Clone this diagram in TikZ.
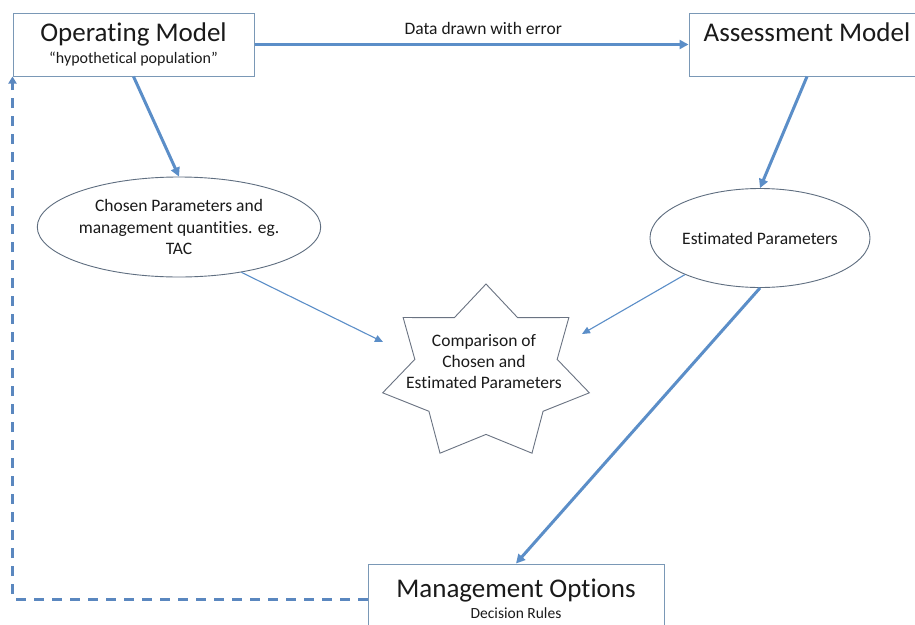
\documentclass[tikz,border=0pt]{standalone}
\usepackage{fontspec}
\setmainfont{Carlito}[Ligatures=NoCommon]
\usetikzlibrary{arrows.meta,shapes.geometric}
\definecolor{lineblue}{HTML}{5B8EC8}
\definecolor{dashblue}{HTML}{5A87BF}
\definecolor{boxline}{HTML}{7A98B6}
\definecolor{ovalline}{HTML}{5F6E80}
\definecolor{starline}{HTML}{6A7382}
\definecolor{textcol}{HTML}{1A1A1A}
\begin{document}
\begin{tikzpicture}[x=1pt,y=-1pt,
  box/.style={draw=boxline, line width=1pt, fill=white, inner sep=0pt, align=center, text=textcol},
  oval/.style={ellipse, draw=ovalline, line width=0.9pt, fill=white, inner sep=0pt, align=center, text=textcol, font=\fontsize{17.5}{21.5}\selectfont},
  bigarrow/.style={draw=lineblue, line width=3pt, -{Triangle[length=9pt,width=9pt]}},
  smallarrow/.style={draw=lineblue, line width=1.1pt, -{Triangle[length=8pt,width=7pt]}},
  dashline/.style={draw=dashblue, line width=3pt, dash pattern=on 10pt off 8pt, -{Triangle[length=7pt,width=8pt]}},
  startline/.style={draw=starline, line width=0.9pt, fill=white, line join=miter}
]
\clip (0,0) rectangle (915,624);
\fill[white] (0,0) rectangle (915,624);

% boxes
\node[box, minimum width=241pt, minimum height=63pt] (om) at (133.5,44.5)
  {{\fontsize{27}{30}\selectfont Operating Model}\\[5pt]{\fontsize{16}{18}\selectfont “hypothetical population”}};
\node[box, minimum width=236pt, minimum height=63pt] (am) at (807,44.5)
  {{\fontsize{27}{30}\selectfont Assessment Model}\\[5pt]{\fontsize{16}{18}\selectfont\strut}};
\node[box, minimum width=296pt, minimum height=70pt] (mo) at (516,599)
  {{\fontsize{27}{30}\selectfont Management Options}\\[5pt]{\fontsize{15.5}{18}\selectfont Decision Rules}};

% ellipses
\node[oval, minimum width=228pt, minimum height=100pt] (ch) at (179,227)
  {Chosen Parameters and\\management quantities. eg.\\TAC};
\node[oval, minimum width=206pt, minimum height=99pt] (est) at (760,238)
  {Estimated Parameters};

% star
\begin{scope}[shift={(486,373)}]
\draw[startline] (270:106 and 89) -- (295.71:73 and 61.4) -- (321.43:106 and 89)
  -- (347.14:73 and 61.4) -- (12.86:106 and 89) -- (38.57:73 and 61.4)
  -- (64.29:106 and 89) -- (90:73 and 61.4) -- (115.71:106 and 89)
  -- (141.43:73 and 61.4) -- (167.14:106 and 89) -- (192.86:73 and 61.4)
  -- (218.57:106 and 89) -- (244.29:73 and 61.4) -- cycle;
\end{scope}
\node[align=center, text=textcol, font=\fontsize{17.5}{21}\selectfont, inner sep=0pt] (cmp) at (484,362)
  {Comparison of\\Chosen and\\Estimated Parameters};
\coordinate (cmpL) at (383,342);
\coordinate (cmpR) at (582,334);

% connectors
\draw[bigarrow] (om.east) -- node[pos=0.527, above=8pt, inner sep=0pt, text=textcol, font=\fontsize{17.5}{20}\selectfont] (lbl) {Data drawn with error} (am.west);
\draw[bigarrow] (om.south) -- (ch.north);
\draw[bigarrow] (am.south) -- (est.north);
\draw[bigarrow] (est.south) -- (mo.north);
\draw[smallarrow] (ch.-36) -- (cmpL);
\draw[smallarrow] (est.206) -- (cmpR);
\draw[dashline] (mo.west) -| (om.south west);
\end{tikzpicture}
\end{document}
